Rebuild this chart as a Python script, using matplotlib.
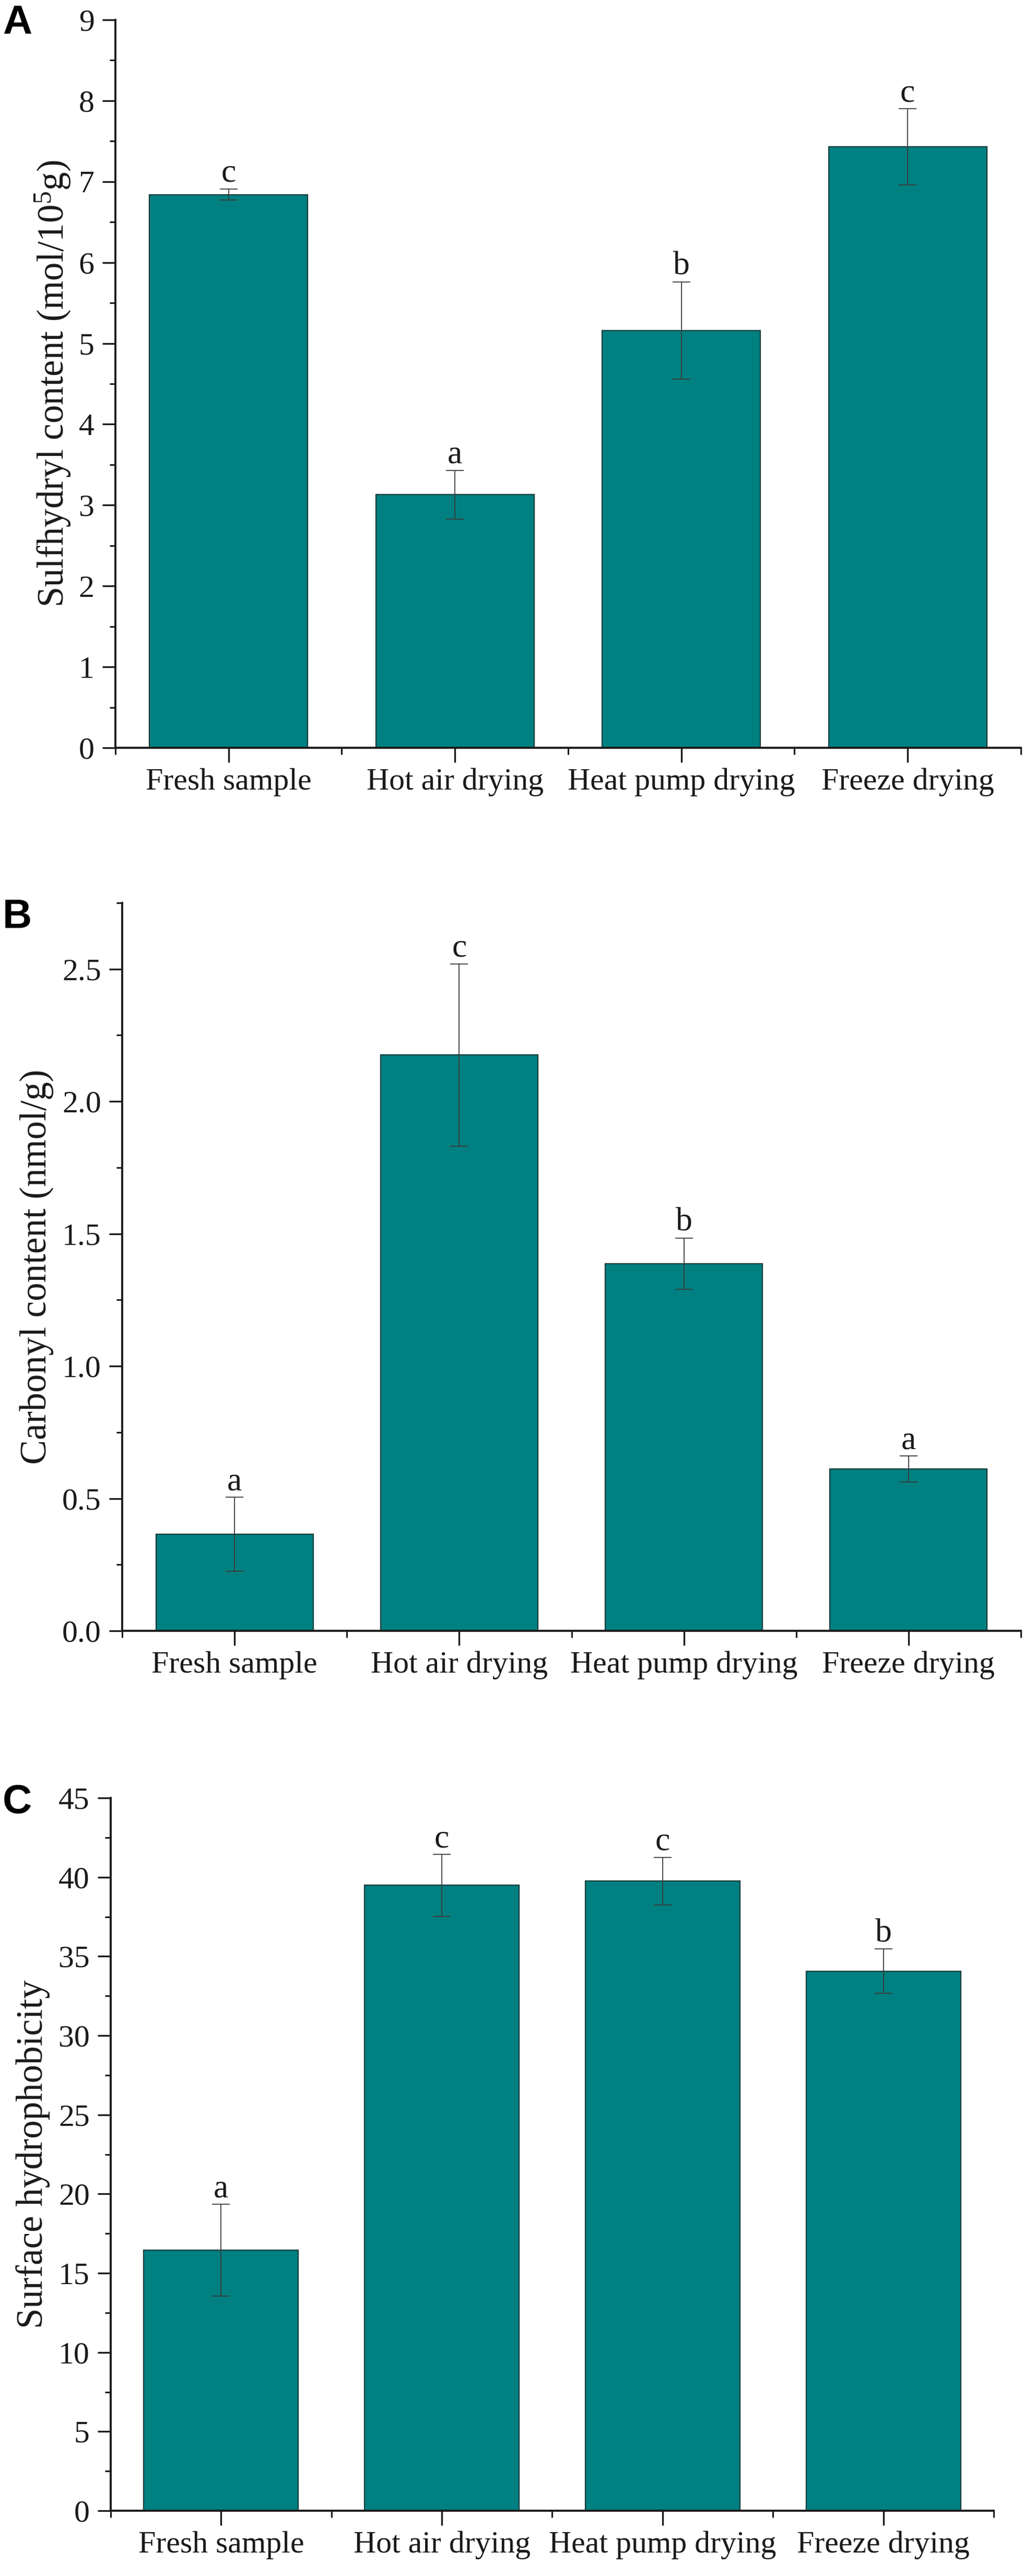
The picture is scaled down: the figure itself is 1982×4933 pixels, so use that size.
import matplotlib
matplotlib.use("Agg")
import matplotlib.pyplot as plt
from matplotlib.ticker import MultipleLocator, FixedLocator
import numpy as np

plt.rcParams['font.family'] = ['Liberation Serif', 'DejaVu Serif']
plt.rcParams['mathtext.fontset'] = 'custom'
plt.rcParams['mathtext.rm'] = 'Liberation Serif'
plt.rcParams['mathtext.it'] = 'Liberation Serif:italic'

categories = ["Fresh sample", "Hot air drying", "Heat pump drying", "Freeze drying"]

# Panel A: sulfhydryl content
sulf_mean = [6.84, 3.13, 5.16, 7.43]
sulf_err = [0.07, 0.30, 0.60, 0.47]
sulf_letters = ["c", "a", "b", "c"]

# Panel B: carbonyl content
carb_mean = [0.365, 2.175, 1.387, 0.612]
carb_err = [0.14, 0.345, 0.097, 0.049]
carb_letters = ["a", "c", "b", "a"]

# Panel C: surface hydrophobicity
hydro_mean = [16.45, 39.48, 39.75, 34.06]
hydro_err = [2.9, 1.95, 1.5, 1.4]
hydro_letters = ["a", "c", "c", "b"]

W, H = 1983, 4933
fig = plt.figure(figsize=(W / 100, H / 100), dpi=100)

def frac_rect(left, right, top, bottom):
    return [left / W, 1 - bottom / H, (right - left) / W, (bottom - top) / H]

panels = [
    dict(rect=frac_rect(221, 1955, 38, 1432), mean=sulf_mean, err=sulf_err,
         letters=sulf_letters, ylim=(0, 9), major=1, minor=0.5, fmt="{:.0f}",
         ylabel="Sulfhydryl content (mol/10$^{\\mathrm{5}}$g)", labx=101,
         tag="A", tagy=65),
    dict(rect=frac_rect(234, 1955, 1729, 3123), mean=carb_mean, err=carb_err,
         letters=carb_letters, ylim=(0, 2.75), major=0.5, minor=0.25, fmt="{:.1f}",
         ylabel="Carbonyl content (nmol/g)", labx=70, tag="B", tagy=1777),
    dict(rect=frac_rect(212, 1903, 3443, 4808), mean=hydro_mean, err=hydro_err,
         letters=hydro_letters, ylim=(0, 45), major=5, minor=2.5, fmt="{:.0f}",
         ylabel="Surface hydrophobicity", labx=63, tag="C", tagy=3472),
]

bar_color = "#008080"
edge_color = "#1c3c3c"
text_color = "#1a1a1a"
x = np.arange(1, len(categories) + 1)

for p in panels:
    ax = fig.add_axes(p["rect"])
    ax.bar(x, p["mean"], width=0.7, color=bar_color, edgecolor=edge_color,
           linewidth=1.6, zorder=2)
    ax.errorbar(x, p["mean"], yerr=p["err"], fmt="none", ecolor="#3a3a3a",
                elinewidth=1.3, capsize=12, capthick=1.3, zorder=3)
    for xi, m, e, lab in zip(x, p["mean"], p["err"], p["letters"]):
        ax.annotate(lab, (xi, m + e), xytext=(0, 10), textcoords="offset points",
                    ha="center", va="baseline", fontsize=46, color=text_color)
    ax.set_xlim(0.5, 4.5)
    ax.set_ylim(*p["ylim"])
    ax.set_xticks(x)
    ax.set_xticklabels(categories)
    ax.xaxis.set_minor_locator(FixedLocator([0.5, 1.5, 2.5, 3.5, 4.5]))
    ax.yaxis.set_major_locator(MultipleLocator(p["major"]))
    ax.yaxis.set_minor_locator(MultipleLocator(p["minor"]))
    ticks = np.arange(p["ylim"][0], p["ylim"][1] + 1e-9, p["major"])
    ax.set_yticks(ticks)
    ax.set_yticklabels([p["fmt"].format(t) for t in ticks])
    for s in ("top", "right"):
        ax.spines[s].set_visible(False)
    for s in ("left", "bottom"):
        ax.spines[s].set_linewidth(2.8)
        ax.spines[s].set_color("#1a1a1a")
    ax.tick_params(axis="y", which="major", direction="out", length=18, width=2.4,
                   labelsize=43, pad=11, colors="#1a1a1a", labelcolor=text_color)
    ax.tick_params(axis="y", which="minor", direction="out", length=8, width=2.2,
                   colors="#1a1a1a")
    ax.tick_params(axis="x", which="major", direction="out", length=20, width=2.4,
                   labelsize=43, pad=8, colors="#1a1a1a", labelcolor=text_color)
    ax.tick_params(axis="x", which="minor", direction="out", length=9, width=2.2,
                   colors="#1a1a1a")
    ax.set_ylabel(p["ylabel"], fontsize=51, color=text_color)
    ax.yaxis.label.set_verticalalignment("center")
    l, b, w, h = p["rect"]
    ax.yaxis.set_label_coords((p["labx"] / W - l) / w, 0.5)
    fig.text(5 / W, 1 - p["tagy"] / H, p["tag"], ha="left", va="baseline",
             fontsize=56, fontweight="bold", family="Liberation Sans", color="black")

fig.savefig("out.png", dpi=100, facecolor="white")
